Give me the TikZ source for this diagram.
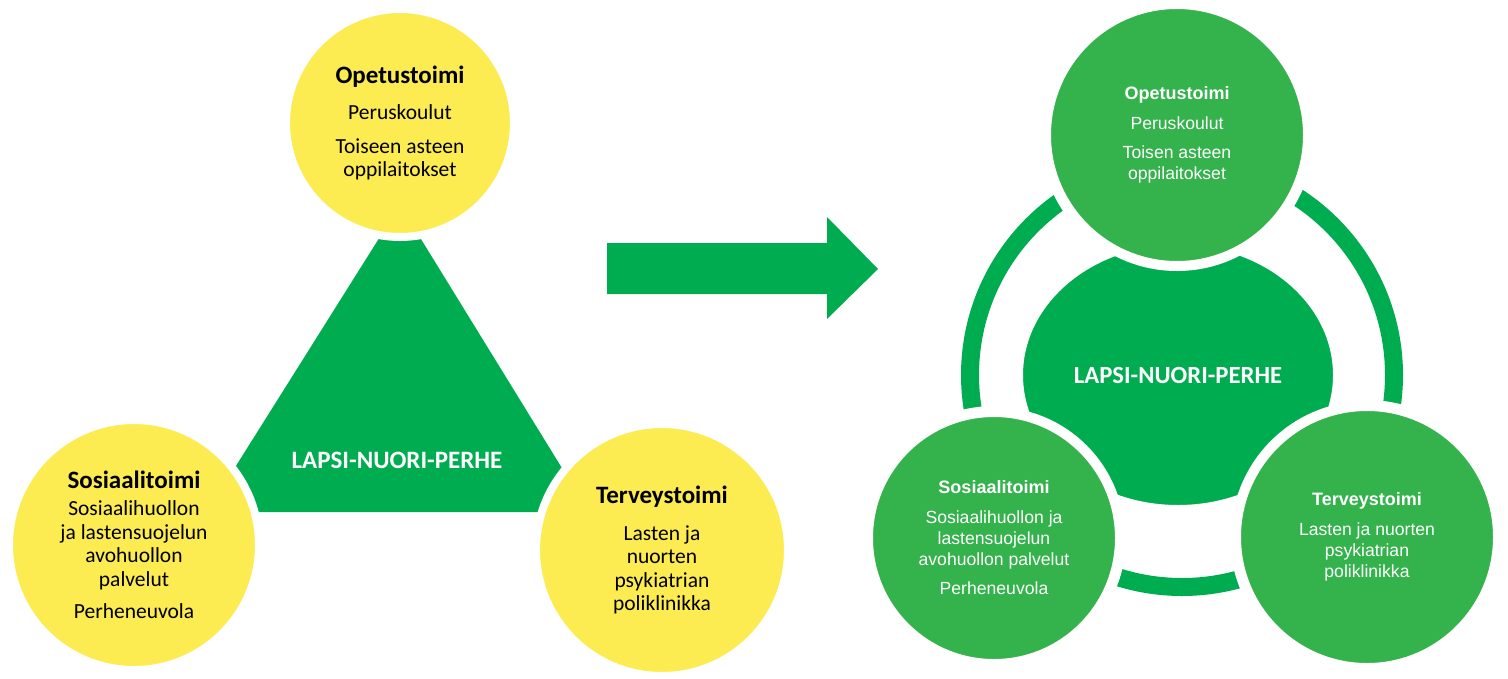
\documentclass[tikz,border=0pt]{standalone}
\usepackage{fontspec}
\usetikzlibrary{shapes.geometric}
\setmainfont{Carlito}
\newfontfamily\arialfont{Liberation Sans}
\definecolor{sunyellow}{RGB}{252,236,82}
\definecolor{deepgreen}{RGB}{0,172,80}
\definecolor{leafgreen}{RGB}{52,178,76}
\begin{document}
\begin{tikzpicture}[x=1pt,y=-1pt,
    ball/.style={circle, draw=white, line width=8pt, inner sep=0pt, align=center},
    yball/.style={ball, fill=sunyellow, font=\fontsize{21.5}{23.5}\selectfont},
    gball/.style={ball, line width=10pt, fill=leafgreen, text=white, font=\arialfont\fontsize{17.6}{21}\selectfont},
    hub/.style={text=white, font=\bfseries\fontsize{25}{30}\selectfont}]

    \useasboundingbox (0,0) rectangle (1508,678);

    % Left: triangle with three services
    \fill[deepgreen] (400,205) -- (207,512) -- (589,512) -- cycle;
    \node[hub] (lnpL) at (397,460) {LAPSI-NUORI-PERHE};

    \node[yball, minimum size=228pt] (opeY) at (400,123)
      {{\bfseries\fontsize{25}{23.5}\selectfont Opetustoimi}\\[12.5pt]
       Peruskoulut\\[10.5pt] Toiseen asteen\\oppilaitokset};
    \node[yball, minimum size=250pt] (sosY) at (134,545)
      {{\bfseries\fontsize{25}{23.5}\selectfont Sosiaalitoimi}\\[3.5pt]
       Sosiaalihuollon\\ja lastensuojelun\\avohuollon\\palvelut\\[9pt] Perheneuvola};
    \node[yball, minimum size=252pt] (terY) at (662,550)
      {{\bfseries\fontsize{25}{23.5}\selectfont Terveystoimi}\\[13.5pt]
       Lasten ja\\nuorten\\psykiatrian\\poliklinikka};

    % Arrow
    \fill[deepgreen] (607,243) -- (827,243) -- (827,217) -- (878,269)
      -- (827,319) -- (827,294) -- (607,294) -- cycle;

    % Right: ring with three services
    \coordinate (opeC) at (1177,135);
    \coordinate (sosC) at (994,538);
    \coordinate (terC) at (1367,537);

    \draw[deepgreen, line width=18pt] (1182,375) circle[radius=212];
    \foreach \c/\r in {opeC/137, sosC/132, terC/137}
      \fill[white] (\c) circle[radius=\r];

    \node[ball, ellipse, fill=deepgreen, minimum width=318pt, minimum height=268pt,
      hub, font=\bfseries\fontsize{24.7}{30}\selectfont] (lnpR) at (1178,375) {LAPSI-NUORI-PERHE};

    \node[gball, minimum size=262pt] (opeG) at (opeC)
      {{\bfseries\fontsize{18}{21}\selectfont Opetustoimi}\\[8.5pt]
       Peruskoulut\\[8.5pt] Toisen asteen\\oppilaitokset};
    \node[gball, minimum size=252pt] (sosG) at (sosC)
      {{\bfseries\fontsize{18}{21}\selectfont Sosiaalitoimi}\\[8.5pt]
       Sosiaalihuollon ja\\lastensuojelun\\avohuollon palvelut\\[8.5pt] Perheneuvola};
    \node[gball, minimum size=262pt] (terG) at (terC)
      {{\bfseries\fontsize{18}{21}\selectfont Terveystoimi}\\[8.5pt]
       Lasten ja nuorten\\psykiatrian\\poliklinikka};

\end{tikzpicture}
\end{document}
